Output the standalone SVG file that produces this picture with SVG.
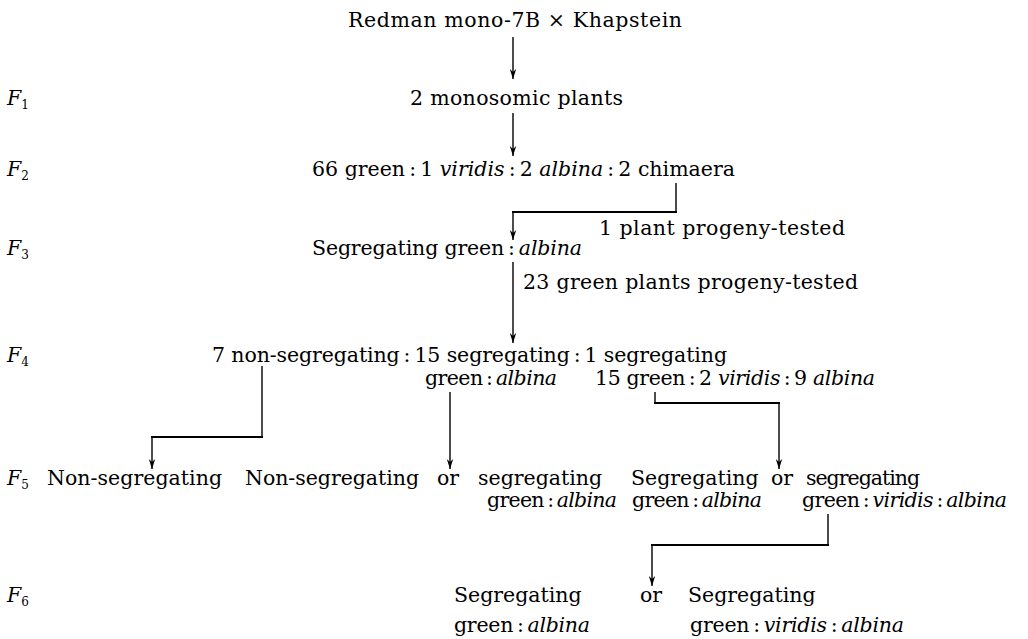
<svg xmlns="http://www.w3.org/2000/svg" width="1028" height="639" viewBox="0 0 1028 639">
<defs>
<marker id="ah" viewBox="0 0 10 8" refX="10" refY="4" markerWidth="10" markerHeight="8" orient="auto" markerUnits="userSpaceOnUse">
<path d="M0,0.8 L10,4 L0,7.2 L3,4 Z" fill="#000"/>
</marker>
<style>
text{font-family:"DejaVu Serif","Liberation Serif",serif;font-size:20.5px;fill:#000;}
.i{font-style:italic;}
.sub{font-size:12px;font-style:normal;}
.c{fill:none;stroke:#000;stroke-width:1.4;}
.h{stroke-width:2;}
</style>
</defs>
<rect width="1028" height="639" fill="#fff"/>
<g id="labels">
<text x="7" y="105"><tspan class="i">F</tspan><tspan class="sub" dy="4">1</tspan></text>
<text x="7" y="176"><tspan class="i">F</tspan><tspan class="sub" dy="4">2</tspan></text>
<text x="7" y="255"><tspan class="i">F</tspan><tspan class="sub" dy="4">3</tspan></text>
<text x="7" y="362"><tspan class="i">F</tspan><tspan class="sub" dy="4">4</tspan></text>
<text x="7" y="485"><tspan class="i">F</tspan><tspan class="sub" dy="4">5</tspan></text>
<text x="7" y="602"><tspan class="i">F</tspan><tspan class="sub" dy="4">6</tspan></text>
</g>
<g id="cross"><text x="348" y="27" textLength="334" lengthAdjust="spacing">Redman mono-7B × Khapstein</text></g>
<g id="f1"><text x="410" y="105" textLength="213" lengthAdjust="spacing">2 monosomic plants</text></g>
<g id="f2"><text x="312" y="176" textLength="423" lengthAdjust="spacing">66 green&#x2009;:&#x2009;1 <tspan class="i">viridis</tspan>&#x2009;:&#x2009;2 <tspan class="i">albina</tspan>&#x2009;:&#x2009;2 chimaera</text></g>
<g id="note1"><text x="599" y="235" textLength="246" lengthAdjust="spacing">1 plant progeny-tested</text></g>
<g id="f3"><text x="312" y="255" textLength="270" lengthAdjust="spacing">Segregating green&#x2009;:&#x2009;<tspan class="i">albina</tspan></text></g>
<g id="note2"><text x="523" y="289" textLength="335" lengthAdjust="spacing">23 green plants progeny-tested</text></g>
<g id="f4">
<text x="212" y="362" textLength="515" lengthAdjust="spacing">7 non-segregating&#x2009;:&#x2009;15 segregating&#x2009;:&#x2009;1 segregating</text>
<text x="425" y="385" textLength="132" lengthAdjust="spacing">green&#x2009;:&#x2009;<tspan class="i">albina</tspan></text>
<text x="595" y="385" textLength="280" lengthAdjust="spacing">15 green&#x2009;:&#x2009;2 <tspan class="i">viridis</tspan>&#x2009;:&#x2009;9 <tspan class="i">albina</tspan></text>
</g>
<g id="f5a"><text x="47" y="485" textLength="175" lengthAdjust="spacing">Non-segregating</text></g>
<g id="f5b">
<text x="245" y="485" textLength="174" lengthAdjust="spacing">Non-segregating</text>
<text x="437" y="485">or</text>
<text x="478" y="485">segregating</text>
<text x="487" y="507" textLength="130" lengthAdjust="spacing">green&#x2009;:&#x2009;<tspan class="i">albina</tspan></text>
</g>
<g id="f5c">
<text x="631" y="485">Segregating</text>
<text x="771" y="485">or</text>
<text x="806" y="485" textLength="114" lengthAdjust="spacing">segregating</text>
<text x="632" y="507" textLength="130" lengthAdjust="spacing">green&#x2009;:&#x2009;<tspan class="i">albina</tspan></text>
<text x="802" y="507" textLength="205" lengthAdjust="spacing">green&#x2009;:&#x2009;<tspan class="i">viridis</tspan>&#x2009;:&#x2009;<tspan class="i">albina</tspan></text>
</g>
<g id="f6">
<text x="454" y="602">Segregating</text>
<text x="640" y="602">or</text>
<text x="688" y="602">Segregating</text>
<text x="454" y="632" textLength="136" lengthAdjust="spacing">green&#x2009;:&#x2009;<tspan class="i">albina</tspan></text>
<text x="690" y="632" textLength="214" lengthAdjust="spacing">green&#x2009;:&#x2009;<tspan class="i">viridis</tspan>&#x2009;:&#x2009;<tspan class="i">albina</tspan></text>
</g>
<g id="connectors">
<path class="c" d="M513,37 V79" marker-end="url(#ah)"/>
<path class="c" d="M513,113 V156" marker-end="url(#ah)"/>
<path class="c" d="M676,183 V212"/>
<path class="c h" d="M677,212 H512"/>
<path class="c" d="M513,212 V240" marker-end="url(#ah)"/>
<path class="c" d="M513,262 V343" marker-end="url(#ah)"/>
<path class="c" d="M262,366 V437"/>
<path class="c h" d="M263,437 H151"/>
<path class="c" d="M152,437 V469" marker-end="url(#ah)"/>
<path class="c" d="M450,392 V469" marker-end="url(#ah)"/>
<path class="c" d="M655,392 V403"/>
<path class="c h" d="M654,403 H780"/>
<path class="c" d="M779,403 V469" marker-end="url(#ah)"/>
<path class="c" d="M828,514 V545"/>
<path class="c h" d="M829,545 H651"/>
<path class="c" d="M652,545 V586" marker-end="url(#ah)"/>
</g>
</svg>
